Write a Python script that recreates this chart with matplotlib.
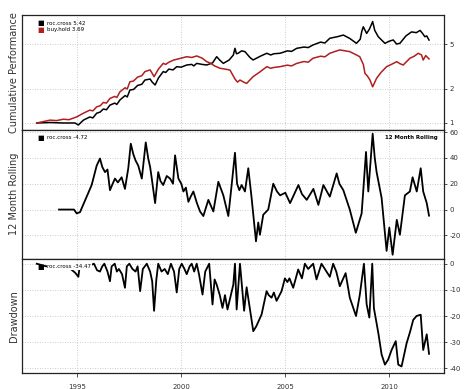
import matplotlib
matplotlib.use('Agg')
import matplotlib.pyplot as plt
import numpy as np

# cumulative performance (year, value)
roc_cum = [(1993.05,1.0),(1993.7,1.01),(1994.3,1.0),(1994.89,1.0),(1995.05,0.96),(1995.29,1.06),
           (1995.6,1.13),(1995.75,1.11),(1995.93,1.22),(1996.1,1.25),(1996.25,1.33),(1996.4,1.31),
           (1996.57,1.44),(1996.8,1.5),(1996.9,1.46),(1997.05,1.6),(1997.3,1.75),(1997.4,1.7),
           (1997.53,1.96),(1997.7,1.98),(1997.9,2.15),(1998.1,2.2),(1998.25,2.40),(1998.5,2.45),
           (1998.6,2.3),(1998.74,2.17),(1998.9,2.5),(1999.13,2.85),(1999.25,2.8),(1999.4,3.0),
           (1999.6,2.95),(1999.78,3.15),(2000.0,3.12),(2000.26,3.26),(2000.5,3.3),(2000.6,3.2),
           (2000.74,3.37),(2001.0,3.3),(2001.22,3.26),(2001.5,3.4),(2001.7,3.86),(2001.85,3.6),
           (2002.02,3.37),(2002.3,3.61),(2002.5,3.99),(2002.58,4.58),(2002.65,4.1),(2002.73,4.14),
           (2002.9,4.35),(2003.06,4.28),(2003.3,3.8),(2003.45,3.61),(2003.8,3.9),(2004.11,4.14),
           (2004.3,4.0),(2004.45,4.1),(2004.75,4.14),(2005.1,4.35),(2005.3,4.3),(2005.55,4.58),
           (2005.9,4.7),(2006.1,4.65),(2006.33,4.9),(2006.7,5.2),(2006.9,5.1),(2007.14,5.62),
           (2007.5,5.8),(2007.79,6.0),(2008.1,5.6),(2008.42,5.07),(2008.6,5.5),(2008.68,6.5),
           (2008.75,7.1),(2008.91,6.2),(2009.05,6.8),(2009.2,7.9),(2009.3,6.6),(2009.47,5.8),
           (2009.79,5.07),(2010.0,5.3),(2010.19,5.43),(2010.35,5.0),(2010.51,5.07),(2010.8,5.9),
           (2011.07,6.4),(2011.3,6.3),(2011.48,6.6),(2011.6,6.2),(2011.71,5.8),(2011.8,5.9),
           (2011.91,5.42)]

bh_cum = [(1993.05,1.0),(1993.69,1.06),(1994.0,1.05),(1994.33,1.08),(1994.6,1.07),(1994.9,1.12),
          (1995.0,1.14),(1995.29,1.22),(1995.6,1.30),(1995.75,1.28),(1995.93,1.39),(1996.1,1.42),
          (1996.25,1.52),(1996.4,1.50),(1996.57,1.65),(1996.8,1.72),(1996.9,1.68),(1997.05,1.89),
          (1997.3,2.05),(1997.4,2.0),(1997.53,2.32),(1997.7,2.35),(1997.9,2.55),(1998.1,2.62),
          (1998.25,2.85),(1998.5,2.95),(1998.6,2.75),(1998.69,2.57),(1998.9,3.0),(1999.13,3.37),
          (1999.25,3.3),(1999.4,3.45),(1999.62,3.6),(2000.0,3.75),(2000.26,3.86),(2000.5,3.80),
          (2000.74,3.92),(2001.0,3.75),(2001.22,3.49),(2001.38,3.40),(2001.6,3.2),(2001.86,3.05),
          (2002.1,3.0),(2002.34,2.94),(2002.58,2.45),(2002.7,2.3),(2002.82,2.40),(2003.0,2.30),
          (2003.14,2.24),(2003.45,2.57),(2003.8,2.85),(2004.11,3.15),(2004.3,3.05),(2004.45,3.1),
          (2004.75,3.15),(2005.1,3.25),(2005.3,3.2),(2005.55,3.37),(2005.9,3.5),(2006.1,3.45),
          (2006.33,3.74),(2006.7,3.9),(2006.9,3.85),(2007.14,4.14),(2007.4,4.3),(2007.62,4.43),
          (2008.1,4.28),(2008.42,4.0),(2008.58,3.86),(2008.75,3.3),(2008.83,2.75),(2008.95,2.6),
          (2009.07,2.40),(2009.2,2.09),(2009.39,2.49),(2009.6,2.8),(2009.87,3.15),(2010.1,3.3),
          (2010.36,3.49),(2010.51,3.35),(2010.67,3.26),(2010.99,3.74),(2011.2,3.9),(2011.39,4.14),
          (2011.55,4.0),(2011.63,3.61),(2011.75,3.95),(2011.91,3.69)]

# 12 month rolling return (%)
roc_roll = [(1994.12,0),(1994.84,0),(1994.97,-3),(1995.13,-2),(1995.45,10),(1995.69,19),(1995.93,34),
            (1996.09,39.5),(1996.2,33),(1996.33,29),(1996.45,31),(1996.57,15),(1996.7,20),(1996.81,24),
            (1996.95,21),(1997.13,25),(1997.29,16),(1997.45,32),(1997.57,51),(1997.69,43),(1997.8,38),
            (1997.93,34),(1998.10,24),(1998.29,52),(1998.41,39.5),(1998.5,33),(1998.58,24),(1998.74,5),
            (1998.89,29),(1999.0,22),(1999.13,19),(1999.3,26),(1999.46,24),(1999.6,20),(1999.70,42),
            (1999.86,24),(2000.0,20),(2000.10,14),(2000.22,17),(2000.34,6),(2000.45,10),(2000.58,14),
            (2000.75,5),(2000.90,-1.5),(2001.06,-5),(2001.30,7.5),(2001.54,-1.5),(2001.78,21.5),
            (2002.02,11),(2002.26,-5),(2002.42,19),(2002.58,44),(2002.68,20),(2002.79,15),(2002.90,19),
            (2003.06,14),(2003.22,32),(2003.38,9),(2003.59,-24.6),(2003.7,-10),(2003.78,-19.5),
            (2003.94,-4),(2004.18,0),(2004.42,20),(2004.6,14),(2004.75,11),(2005.0,13),(2005.23,5),
            (2005.63,19),(2005.8,12),(2006.03,7.5),(2006.2,12),(2006.35,16),(2006.59,3.6),(2006.83,19),
            (2007.0,14),(2007.14,10),(2007.47,28),(2007.6,20),(2007.79,15),(2008.10,0),(2008.39,-18),
            (2008.67,-3),(2008.75,15),(2008.88,44.6),(2008.99,14),(2009.20,58.8),(2009.3,40),
            (2009.39,29),(2009.63,9),(2009.87,-32),(2010.0,-14),(2010.16,-35),(2010.36,-8),
            (2010.51,-19.5),(2010.75,11),(2010.99,14),(2011.12,25),(2011.32,14),(2011.51,32),
            (2011.63,14),(2011.80,5),(2011.91,-4.72)]

# drawdown (%)
roc_dd = [(1993.05,0),(1993.5,-1),(1994.0,-0.5),(1994.6,-1.5),(1994.89,-3.4),(1995.05,-5),(1995.13,0),
          (1995.3,-1.5),(1995.5,-2),(1995.65,-0.5),(1995.8,0),(1995.95,-2.5),(1996.09,-3),(1996.2,-1),
          (1996.3,0),(1996.45,-3),(1996.57,-6.7),(1996.65,-1),(1996.8,0),(1996.9,-3),(1997.0,-2),
          (1997.15,-4),(1997.29,-9.2),(1997.38,-1),(1997.5,0),(1997.65,-2),(1997.8,-3),(1997.9,-1),
          (1998.02,-10.5),(1998.15,-2),(1998.34,0),(1998.5,-3),(1998.6,-6.7),(1998.69,-18),(1998.8,-6),
          (1998.89,0),(1999.05,-3),(1999.2,-2),(1999.35,-4),(1999.5,0),(1999.65,-3),(1999.78,-11),
          (1999.9,-2),(2000.02,0),(2000.15,-2),(2000.26,-4),(2000.4,-1),(2000.5,0),(2000.62,-3),
          (2000.74,0),(2000.85,-4),(2001.02,-11.8),(2001.15,-3),(2001.34,0),(2001.5,-15.6),
          (2001.6,-6),(2001.7,-8),(2001.85,-12),(2001.98,-16.9),(2002.1,-12),(2002.22,-17.5),
          (2002.50,-8),(2002.58,0),(2002.66,-17.5),(2002.82,0),(2003.02,-18),(2003.14,-9),
          (2003.46,-25.8),(2003.6,-24),(2003.86,-19.4),(2004.1,-10.5),(2004.2,-12),(2004.34,-13),
          (2004.45,-11),(2004.58,-14.2),(2004.82,-10.5),(2004.98,-5.6),(2005.1,-7),(2005.2,-5.6),
          (2005.38,-9.2),(2005.62,-2.2),(2005.8,-5.6),(2005.94,0),(2006.1,-2),(2006.34,0),(2006.5,-6),
          (2006.74,0),(2006.9,-2),(2007.14,-5),(2007.3,0),(2007.45,-3),(2007.62,-8.6),(2007.9,-3.6),
          (2008.1,-13),(2008.4,-20),(2008.58,-12),(2008.78,0),(2008.91,-15.5),(2009.04,-20.6),
          (2009.18,0),(2009.26,-17),(2009.47,-26.4),(2009.63,-34.7),(2009.79,-38.6),(2009.95,-36.6),
          (2010.11,-33),(2010.31,-29.6),(2010.43,-38.6),(2010.59,-39.3),(2010.83,-30.5),(2011.0,-26),
          (2011.15,-21.5),(2011.31,-20),(2011.51,-19.5),(2011.63,-33),(2011.80,-27),(2011.91,-34.47)]

year_ticks = [1995, 2000, 2005, 2010]
cum_ticks = [1, 2, 5]
roll_ticks = [-20, 0, 20, 40, 60]
dd_ticks = [-40, -30, -20, -10, 0]

RED = '#b01e1e'
GRID = '#bbbbbb'

fig = plt.figure(figsize=(4.67, 3.89), dpi=100)
W = 467.0
H = 389.0
def axrect(top, bottom):
    return [22 / W, 1 - bottom / H, (444 - 22) / W, (bottom - top) / H]

ax1 = fig.add_axes(axrect(15, 130))
ax2 = fig.add_axes(axrect(129.5, 258.5))
ax3 = fig.add_axes(axrect(258.5, 373))

def style(ax, ticks, labels, ylabel):
    ax.set_xlim(1992.34, 2012.63)
    ax.set_xticks(year_ticks)
    ax.yaxis.tick_right()
    ax.set_yticks(ticks)
    ax.set_yticklabels(labels)
    ax.minorticks_off()
    ax.tick_params(axis='y', labelsize=5, length=2.5, width=0.6, pad=1.5, colors='#333333')
    ax.grid(True, color=GRID, linestyle=(0, (1, 2)), linewidth=0.6)
    for s in ax.spines.values():
        s.set_linewidth(0.9)
        s.set_color('#222222')
    ax.set_ylabel(ylabel, fontsize=7, color='#333333', labelpad=2)

# top panel
x, y = zip(*roc_cum)
ax1.plot(x, y, color='black', lw=1.1)
x, y = zip(*bh_cum)
ax1.plot(x, y, color=RED, lw=1.1)
ax1.set_yscale('log')
ax1.set_ylim(0.867, 9.03)
style(ax1, cum_ticks, [str(t) for t in cum_ticks], 'Cumulative Performance')
ax1.tick_params(axis='x', bottom=False, labelbottom=False)
ax1.text(0.037, 0.93, '\u25a0', transform=ax1.transAxes, fontsize=5, color='black', va='center')
ax1.text(0.06, 0.93, 'roc.cross 5.42', transform=ax1.transAxes, fontsize=4, va='center')
ax1.text(0.037, 0.87, '\u25a0', transform=ax1.transAxes, fontsize=5, color=RED, va='center')
ax1.text(0.06, 0.87, 'buy.hold 3.69', transform=ax1.transAxes, fontsize=4, va='center')

# middle panel
x, y = zip(*roc_roll)
ax2.plot(x, y, color='black', lw=1.3)
ax2.set_ylim(-37.9, 62)
style(ax2, roll_ticks, [str(t) for t in roll_ticks], '12 Month Rolling')
ax2.tick_params(axis='x', bottom=False, labelbottom=False)
ax2.text(0.037, 0.935, '\u25a0', transform=ax2.transAxes, fontsize=5, color='black', va='center')
ax2.text(0.06, 0.935, 'roc.cross -4.72', transform=ax2.transAxes, fontsize=4, va='center')
ax2.text(0.985, 0.935, '12 Month Rolling', transform=ax2.transAxes, fontsize=4,
         ha='right', va='center', fontweight='bold')

# bottom panel
x, y = zip(*roc_dd)
ax3.plot(x, y, color='black', lw=1.3)
ax3.set_ylim(-41.8, 2.0)
style(ax3, dd_ticks, [str(t) for t in dd_ticks], 'Drawdown')
ax3.tick_params(axis='x', labelsize=5, length=3, width=0.6, pad=5, colors='#333333')
ax3.set_xticklabels([str(t) for t in year_ticks])
ax3.text(0.037, 0.93, '\u25a0', transform=ax3.transAxes, fontsize=5, color='black', va='center')
ax3.text(0.06, 0.93, 'roc.cross -34.47', transform=ax3.transAxes, fontsize=4, va='center',
         bbox=dict(facecolor='white', edgecolor='none', pad=0.5))

fig.savefig('out.png', dpi=100)
